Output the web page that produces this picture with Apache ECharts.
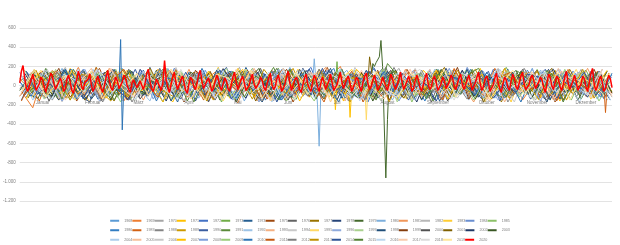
<!DOCTYPE html>
<html><head><meta charset="utf-8">
<script src="https://cdn.jsdelivr.net/npm/echarts@6/dist/echarts.min.js"></script>
<style>html,body{margin:0;padding:0;background:#fff}#c{width:620px;height:245px}</style>
</head><body><div id="c"></div>
<script>
const monthNames=['Januar','Februar','März','April','Mai','Juni','Juli','August','September','Oktober','November','Dezember'];
const monthDays=[31,28,31,30,31,30,31,31,30,31,30,31];
const yTicks={min:-1200,max:600,step:200};
const years=[];for(let y=1968;y<=2020;y++)years.push(y);
const colors=['#5B9BD5','#ED7D31','#A5A5A5','#FFC000','#4472C4','#70AD47','#255E91','#9E480E','#636363','#997300','#264478','#43682B','#7CAFDD','#F1975A','#B7B7B7','#FFCD33','#698ED0','#8CC168','#327DC2','#D26012','#848484','#CC9A00','#3A5DA0','#5A8A39','#9DC3E6','#F4B183','#C9C9C9','#FFD966','#8FAADC','#A9D18E','#1F4E79','#843C0C','#525252','#7F6000','#203864','#385723','#ADCDEB','#F6BF9A','#C8C8C8','#FFC000','#7E9FDB','#9ACC79','#2E75B6','#C55A11','#7F7F7F','#BF9000','#2F5597','#548235','#BDD7EE','#F8CBAD','#DBDBDB','#FFE699','#FF0000'];
// 2020: daily values
const y2020=[30,150,210,80,-20,-60,10,60,120,40,-50,-30,20,90,60,-10,-70,0,50,130,100,20,-40,-20,40,80,20,-60,-30,70,110,
40,-50,-80,10,60,150,90,-10,-40,30,20,70,120,10,-60,-20,50,100,40,-30,-70,0,80,160,60,-20,-50,20,
90,50,-30,-10,40,110,80,0,-40,-70,30,60,20,-20,10,50,30,-40,20,130,170,50,-30,-60,0,70,90,-10,-50,40,260,
60,-20,-70,10,90,140,30,-40,-20,60,100,30,-50,-80,20,90,60,-10,-40,30,120,160,40,-30,-10,50,80,20,-60,-30,
40,110,70,-10,-50,20,80,50,-30,-60,10,90,140,40,-40,-20,60,100,30,-50,-60,0,70,120,20,-30,-50,30,90,60,-20,
-50,20,80,130,10,-40,-10,70,110,30,-60,-30,20,100,150,30,-50,0,60,90,40,-40,-70,10,80,120,20,-30,-60,40,
110,70,-10,-60,20,90,40,-40,-20,50,120,30,-50,-70,10,80,140,40,-30,-10,70,100,20,-60,-40,30,90,60,-20,-60,40,
100,130,20,-40,-10,60,110,40,-50,-70,20,90,70,-10,-50,30,120,80,0,-40,10,70,140,30,-40,-20,50,100,40,-60,-30,
50,110,60,-20,-60,10,80,130,20,-40,-10,70,100,30,-50,-70,20,90,50,-30,-50,40,110,80,-10,-40,20,80,120,10,
-40,-20,60,110,40,-50,-30,30,90,140,20,-50,-10,70,100,40,-60,-40,10,80,130,30,-30,-70,20,90,60,-20,-50,50,120,
70,-10,-40,30,100,140,20,-40,-60,10,80,110,50,-30,-50,40,90,60,-20,-70,20,120,90,0,-40,30,100,70,-10,-50,
10,90,150,30,-40,-20,50,110,40,-50,-70,20,100,70,-10,-60,30,120,180,20,-50,-10,60,100,40,-60,-30,50,110,70,-20];
// 1968-2019: weekly readings
const w1968=[40,-90,130,-20,160,-110,70,10,-140,180,-60,90,-30,120,-120,50,150,-80,20,-150,110,60,-40,170,-100,30,-70,140,-10,90,-130,200,-50,80,-90,120,30,-110,160,-40,60,-150,100,20,-60,180,-120,40,130,-80,70,-20,110];
const w1969=[-60,-230,150,80,-30,190,-90,20,120,-160,60,-40,170,-70,100,-130,40,140,-20,-180,90,-50,160,10,-110,130,-60,70,200,-90,30,-140,110,-20,150,-70,40,-120,180,-30,90,-100,60,140,-150,20,110,-60,170,-90,50,-120,80];
const w1970=[100,-40,-120,160,30,-80,140,-150,60,90,-20,-110,170,40,-70,120,-130,80,10,190,-90,50,-160,130,-30,70,-100,150,20,-60,110,-140,40,180,-50,-80,130,10,-120,160,-30,70,-90,140,-10,-150,100,60,-40,170,-110,30,90];
const w1971=[-80,120,50,-150,180,-40,90,-110,30,160,-70,140,-20,-170,80,110,-60,190,-130,20,150,-90,60,-30,170,-120,40,100,-160,130,-10,-100,70,80,-140,160,30,-70,120,-50,180,-110,60,-20,140,-90,50,-160,110,20,-60,130,-30];
const w1972=[150,-30,70,-120,20,170,-80,110,-50,-140,130,40,-90,180,-20,60,-160,100,150,-70,30,-110,140,-40,80,190,-130,50,-10,120,-170,90,20,-60,160,-100,40,130,-80,10,-140,170,60,-30,120,-120,90,-50,150,30,-100,60,140];
const w1973=[-20,80,-130,140,60,-90,190,-40,10,-150,120,70,-110,160,-60,30,100,-170,140,-10,50,-80,180,-130,90,20,-50,150,-100,60,130,-160,110,-20,80,-120,170,40,-70,110,-140,60,190,-30,-90,130,20,-150,80,160,-60,100,-40];
const w1974=[90,-110,40,170,-60,120,-140,30,80,-30,160,-100,50,-170,140,10,-70,110,-120,190,-40,70,-150,130,20,-90,160,-50,100,-130,40,180,-80,60,-20,140,-160,90,30,-110,120,-40,170,-90,10,150,-130,70,-60,110,30,-150,90];
const w1975=[-110,60,150,-50,90,-160,40,180,-90,20,-130,110,-30,170,-70,50,130,-140,80,-10,160,-100,30,120,-170,70,-40,190,-80,10,140,-120,60,-30,170,-60,100,-150,40,130,-90,20,160,-110,70,-40,140,-170,50,90,-20,120,-80];
const w1976=[60,140,-70,10,-130,120,80,-160,170,-40,90,-100,30,150,-80,-20,130,-150,60,110,-50,180,-120,40,-90,160,20,-60,130,-140,70,-10,190,-110,50,90,-170,140,-30,60,-120,110,20,-80,170,-50,-140,130,40,-100,150,-20,70];
const w1977=[-40,170,-120,90,30,-80,150,-20,-160,110,60,-100,180,-50,20,140,-130,70,-10,160,-90,40,110,-150,80,-30,170,-70,10,130,-120,60,150,-60,90,-140,30,190,-100,50,-20,120,-170,80,140,-60,20,-110,170,-40,90,-130,60];
const w1978=[130,-60,20,-150,170,50,-100,140,-30,70,-120,190,-70,30,110,-160,80,-40,150,-90,20,130,-140,60,-20,170,-110,90,40,-60,160,-130,10,120,-80,50,-150,180,-40,100,30,-120,140,-70,60,-10,170,-140,90,-50,120,40,-110];
const w1979=[20,-140,110,60,-70,160,-30,90,-120,140,-50,30,170,-100,80,-20,130,-150,50,120,-80,10,180,-110,70,-40,150,-130,60,20,-90,140,-60,100,-140,40,170,-30,80,-120,110,-70,30,160,-90,50,-150,130,-10,70,-100,150,-40];
const w1980=[-100,80,-30,180,-140,50,120,-70,10,150,-110,60,-40,170,20,-130,90,-60,140,-160,70,30,-90,190,-50,100,-120,40,160,-20,-80,130,-150,60,110,-40,170,-100,20,-60,150,-130,80,40,-70,160,-20,-110,120,60,-140,90,10];
const w1981=[70,-50,160,-130,30,110,-90,180,-20,60,-150,130,40,-70,170,-110,20,90,-40,150,-160,80,-10,120,-100,60,190,-60,30,-140,110,50,-120,170,-30,80,-90,140,10,-170,100,-40,160,-80,30,120,-150,60,-20,180,-70,40,-130];
const w1982=[-30,120,-80,40,190,-120,70,-10,140,-160,50,100,-60,170,-140,30,80,-100,160,-40,110,-170,60,20,-80,150,-120,90,-30,130,40,-150,170,-60,10,120,-110,80,150,-90,20,-40,180,-130,70,-20,110,-160,140,30,-70,90,-120];
const w1983=[110,-120,60,-40,150,20,-170,90,130,-60,30,-110,170,-20,80,-140,120,50,-90,180,-30,70,-160,110,10,-70,140,-120,60,170,-50,-10,130,-150,90,40,-80,160,-110,30,120,-60,70,-170,150,-20,100,-90,40,130,-140,60,-50];
const w1984=[-70,40,170,-100,90,-30,140,-150,60,10,120,-80,180,-50,20,-130,160,-70,110,-20,60,150,-140,40,-90,130,10,-60,170,-110,80,-30,140,-160,50,110,-70,20,-120,190,-40,90,-150,60,130,-100,30,170,-60,-10,110,-140,80];
const w1985=[160,-20,-90,130,-150,70,30,-60,170,-110,40,140,-30,-140,90,60,-80,150,-120,20,180,-50,100,-160,70,-10,130,-90,40,160,-130,60,-40,110,-170,80,20,150,-70,-30,140,-120,50,90,-60,170,-100,30,-150,120,60,-80,140];
const w1986=[-120,90,20,-60,170,-140,110,40,-80,150,-30,60,-170,130,-10,80,-110,160,30,-50,120,-150,70,-20,140,-100,50,180,-130,20,90,-70,150,-40,60,-160,120,10,-90,170,-60,80,-130,40,160,-30,-110,100,50,-70,130,-150,20];
const w1987=[50,-160,140,-20,80,-100,190,-70,30,-130,110,60,-40,170,-120,10,140,-90,70,-30,160,-140,50,100,-60,20,-170,130,80,-50,150,-110,40,-20,170,-80,60,-140,120,30,-100,180,-60,20,140,-130,90,-30,60,-110,150,130,-40];
const w1988=[-10,130,-150,70,40,-90,160,-40,110,-170,60,20,-120,150,-60,90,-20,180,-140,50,100,-80,30,170,-110,60,-40,130,-160,80,10,-90,190,-50,120,-130,40,-20,160,-100,70,140,-170,30,-60,110,-10,150,-120,80,20,-90,170];
const w1989=[80,-80,40,150,-130,20,120,-50,-160,170,-20,90,-110,60,140,-70,30,-150,160,-40,70,110,-120,10,180,-90,50,-30,140,-170,100,40,-60,150,-140,80,-10,120,-110,60,170,-80,20,-130,130,50,-40,160,-150,90,-20,110,-60];
const w1990=[-150,100,-20,60,130,-90,-170,140,30,-60,170,-110,80,10,-140,120,-30,60,190,-100,40,-70,150,-130,20,100,-50,160,-10,-120,70,180,-90,30,-150,130,60,-40,110,-80,20,150,-160,90,-20,50,170,-130,40,-60,140,-100,30];
const w1991=[30,-70,180,-120,50,-20,140,90,-150,60,-40,160,-90,20,130,-170,80,40,-110,150,-60,10,190,-80,-140,120,30,-30,170,-100,60,-150,230,90,-20,140,-160,50,-70,110,180,-40,-120,70,20,-90,160,-10,130,-140,80,-50,100];
const w1992=[-60,140,-110,30,90,-40,170,-130,60,110,-20,-160,150,40,-80,120,-50,180,-100,20,70,-140,130,-30,160,-60,40,-120,90,150,-170,60,20,-70,130,-110,170,-40,80,-150,100,30,-80,140,-20,60,-130,170,-60,10,120,-100,50];
const w1993=[120,-30,60,-140,160,-90,20,130,-60,-120,170,40,-80,100,-20,150,-150,70,30,-100,180,-40,90,-130,50,140,-70,10,-160,120,60,-20,150,-110,40,-60,160,-140,90,20,-50,130,-170,70,110,-30,-100,150,40,-70,100,-140,170];
const w1994=[-90,50,120,-170,80,-10,160,-60,30,140,-120,70,-40,190,-90,20,110,-150,60,-30,130,-80,170,10,-130,90,-50,150,-100,40,110,-160,70,-20,180,-70,30,-130,140,60,-90,10,160,-110,50,-40,130,-160,80,120,-30,70,-140];
const w1995=[10,160,-90,40,-150,130,70,-50,180,-120,90,-10,-140,150,30,-70,120,-160,60,170,-40,100,-110,20,140,-80,60,-150,130,-20,80,170,-60,-130,110,40,-100,160,-30,70,-170,120,10,-60,150,-120,90,-40,170,-90,50,130,-110];
const w1996=[140,-100,30,-50,170,-80,90,-160,40,120,-30,60,-130,180,-70,10,140,-110,80,-40,150,-170,50,110,-60,30,-120,160,-20,90,-140,70,130,-90,20,-50,170,-130,60,100,-80,40,-150,120,-10,170,-60,30,-110,140,70,-40,90];
const w1997=[-40,90,-140,170,20,-100,60,130,-70,30,-160,110,50,-30,150,-120,70,-60,180,10,-90,140,-40,60,-150,120,30,-80,170,-110,50,-20,140,-170,90,130,-50,10,-120,160,40,-90,110,-30,70,-150,150,20,-60,130,-120,80,-20];
const w1998=[70,-130,150,-60,40,110,-140,20,170,-80,60,-20,130,-160,90,30,-100,160,-50,120,-30,-170,80,140,-90,50,-10,180,-130,60,20,-100,150,-40,110,-150,70,30,-80,170,-120,90,-20,140,-60,40,-170,110,60,-30,150,-90,30];
const w1999=[-100,60,-20,180,-120,30,90,-70,150,-150,40,120,-40,70,-170,160,10,-90,130,-60,100,-130,20,170,-40,-110,140,50,-80,110,-20,160,-150,60,30,-100,130,-60,190,-140,80,-10,120,-90,40,160,-130,70,-50,20,170,-110,60];
const w2000=[20,110,-160,80,-30,150,-100,60,-60,170,-140,40,100,-80,20,130,-170,90,-20,150,-110,60,30,-150,170,-50,80,-130,40,120,-70,10,160,-120,90,-40,140,-160,50,-10,110,-100,180,-60,30,-140,120,80,-90,40,-30,150,-120];
const w2001=[-130,70,140,-40,90,-150,30,160,-90,10,110,-60,180,-120,50,-30,150,-100,20,130,-160,90,-10,170,-70,40,-140,120,60,-90,150,-30,40,-130,80,-50,160,-110,30,140,-170,70,-20,110,-80,50,180,-150,60,-40,130,20,-100];
const w2002=[90,-40,-110,160,30,-140,120,-20,70,150,-100,50,-160,130,-30,90,-80,170,20,-130,140,-50,60,-120,180,-10,30,-150,110,70,-90,140,-30,50,-170,120,40,-80,160,-110,20,130,-50,90,-140,60,170,-70,10,-120,150,-30,80];
const w2003=[-50,130,60,-120,170,-70,20,110,-150,80,40,-90,160,-30,-130,140,70,-60,120,-170,50,180,-100,30,-40,150,-140,90,10,-80,130,-160,70,160,-50,20,-110,170,-20,60,-140,100,40,-90,150,-120,80,-30,130,-150,60,110,-70];
const w2004=[110,-150,40,90,-60,170,-110,20,130,-40,-140,80,150,-90,30,-20,160,-130,70,110,-60,10,-170,140,50,-100,120,-30,180,-150,40,90,-70,130,-120,60,20,-160,150,-40,100,-90,170,-10,-130,80,140,-60,30,-170,120,50,-80];
const w2005=[-20,90,-120,150,-70,40,180,-140,60,-30,120,-100,20,170,-60,90,-150,130,30,-90,160,-40,70,-130,110,-10,150,-170,80,20,-110,140,-50,60,170,-120,30,-80,130,-20,60,-160,150,40,-70,110,-100,180,-40,20,-130,90,60];
const w2006=[60,-70,170,-130,20,110,-40,-150,140,70,-90,160,-20,50,-160,130,-60,100,40,-110,170,-30,80,-140,20,150,-80,60,-120,190,-40,30,-100,150,-150,90,-20,120,-130,60,140,-70,10,-170,160,-40,90,-90,40,150,-110,70,-30];
const w2007=[-140,120,30,-80,160,-20,90,-130,50,140,-60,20,-170,110,70,-40,150,-100,30,170,-120,80,-50,130,-160,60,100,-20,-90,170,40,-70,110,-60,90,-30,160,-140,70,-10,120,-110,180,-50,30,-150,130,60,-80,110,-20,160,-130];
const w2008=[130,-50,80,-160,40,170,-100,10,120,-70,160,-140,60,30,-90,140,-30,90,-150,50,120,-60,170,-110,20,-40,150,-130,80,40,-100,160,-10,70,-150,110,-60,180,-90,30,-130,140,20,-50,110,-160,70,130,-20,-100,90,-70,160];
const w2009=[-80,40,150,-110,90,-40,130,60,-170,120,20,-60,180,-120,50,100,-80,30,-140,160,-20,70,-110,140,10,-160,120,-50,90,60,-130,170,-30,40,-100,150,-70,20,130,-150,80,-20,160,-120,60,30,-90,170,-60,110,-160,50,20];
const w2010=[40,-110,120,-30,170,-140,70,20,-90,150,-50,110,-160,80,40,-120,180,-60,30,-130,140,-20,90,-150,60,130,-80,10,-170,120,70,-40,150,-110,30,-60,160,-130,90,20,-100,140,-30,60,-170,110,50,-80,150,-40,10,-120,130];
const w2011=[-160,80,-30,150,40,-90,130,-140,60,170,-70,20,-120,160,-10,90,-150,110,50,-60,140,-130,30,180,-80,40,-110,120,-20,150,-170,70,-40,100,130,-100,20,-150,170,-30,60,-120,90,140,-60,-20,110,-160,80,40,-90,170,-50];
const w2012=[80,-20,-130,140,-60,110,40,-170,150,-30,70,-100,170,-50,20,130,-140,60,-90,120,30,-160,150,-40,80,-110,170,20,-70,130,-150,50,110,-20,-120,160,-60,90,30,-140,150,-40,70,-110,180,-10,-150,120,40,-80,160,-100,20];
const w2013=[-30,160,-100,50,-150,120,80,-60,140,-120,30,180,-40,-110,90,60,-160,130,-20,70,-140,170,20,-80,110,-30,150,-120,50,90,-60,140,-170,80,20,-100,130,-40,160,-70,40,-140,110,70,-30,150,-110,20,-60,170,-130,60,100];
const w2014=[150,-90,20,-60,130,-130,70,110,-40,-150,170,-20,60,-110,140,-80,30,160,-140,40,-50,120,-170,90,30,-90,180,-60,10,-120,150,60,-100,130,-30,40,-160,110,70,-50,160,-130,20,-70,120,90,-140,60,-20,140,-100,30,-60];
const w2015=[-70,30,110,-140,170,-50,90,-110,20,160,-90,60,-30,130,-160,80,40,-70,150,-120,100,20,-150,170,-40,60,-100,140,-10,-130,110,-60,160,-20,70,-140,120,40,-90,170,-50,10,-120,150,60,-80,130,-170,90,-20,140,-60,70];
const w2016=[100,-60,-140,120,60,-20,170,-110,40,-80,150,-30,90,-150,110,20,-70,160,-120,50,-40,140,-90,30,170,-130,60,-10,120,-160,80,40,-110,150,-50,100,-20,-140,130,60,-80,170,-40,20,-130,160,-60,90,-10,-100,140,-150,50];
const w2017=[-110,140,-40,70,-150,20,130,-80,180,-30,-120,90,40,-60,150,-140,70,10,-100,170,-20,60,-160,120,-50,90,130,-110,30,-70,160,-30,-140,110,40,-80,170,-120,60,-10,130,-150,80,30,-70,140,-20,-130,100,60,-40,150,-110];
const w2018=[50,-100,160,-40,90,-130,20,140,-70,60,-160,110,30,-90,170,-50,80,-130,40,150,-110,20,-60,180,-140,70,-30,130,60,-100,20,150,-70,-120,90,170,-40,30,-150,120,60,-90,150,-20,50,-160,130,-70,90,10,-120,170,-50];
const w2019=[-50,170,-120,30,110,-70,150,-140,60,-10,130,-100,40,170,-60,20,-150,120,80,-40,160,-130,50,-20,140,-90,70,-160,110,30,-80,150,-40,-110,130,60,-30,170,-120,40,90,-140,20,160,-90,50,-40,140,-150,80,30,-100,150];
const weekly=[w1968,w1969,w1970,w1971,w1972,w1973,w1974,w1975,w1976,w1977,w1978,w1979,w1980,w1981,w1982,w1983,w1984,w1985,w1986,w1987,w1988,w1989,w1990,w1991,w1992,w1993,w1994,w1995,w1996,w1997,w1998,w1999,w2000,w2001,w2002,w2003,w2004,w2005,w2006,w2007,w2008,w2009,w2010,w2011,w2012,w2013,w2014,w2015,w2016,w2017,w2018,w2019];
// single-day extremes [dayOfYear, value]
const spikes1971=[[202,20],[203,-330],[204,-40]];
const spikes1973=[[194,0],[195,250],[196,-20]];
const spikes1979=[[216,60],[217,230],[218,200],[219,240],[220,220],[221,300],[222,470],[223,200],[224,-400],[225,-960],[226,-350],[227,50]];
const spikes1980=[[180,40],[181,280],[182,60],[183,-200],[184,-630],[185,-100],[186,30]];
const spikes1987=[[359,0],[360,-280],[361,-30]];
const spikes1995=[[212,10],[213,-355],[214,-20]];
const spikes2001=[[214,40],[215,300],[216,280],[217,60]];
const spikes2007=[[193,20],[194,-250],[195,0]];
const spikes2010=[[61,20],[62,480],[63,-460],[64,10]];
const spikeLookup={1971:spikes1971,1973:spikes1973,1979:spikes1979,1980:spikes1980,1987:spikes1987,1995:spikes1995,2001:spikes2001,2007:spikes2007,2010:spikes2010};

const categories=[];const midIdx=[];
monthDays.forEach((n,m)=>{for(let d=1;d<=n;d++){if(d===15)midIdx.push(categories.length);categories.push(d+'. '+monthNames[m]);}});
const nDays=categories.length;

const series=[];
years.forEach((y,k)=>{
  let data;
  if(y===2020){data=y2020.slice();}
  else{
    data=new Array(nDays).fill(null);
    const off=k%7;
    weekly[k].forEach((v,i)=>{const d=off+7*i;if(d<nDays)data[d]=v;});
    (spikeLookup[y]||[]).forEach(p=>{data[p[0]]=p[1];});
  }
  series.push({name:String(y),type:'line',data:data,symbol:'none',showSymbol:false,connectNulls:true,silent:true,
    lineStyle:{width:y===2020?1.5:1,color:colors[k]},itemStyle:{color:colors[k]}});
});

// month labels sit just below the zero line (Excel "next to axis" style)
const monthLabelLevel=-180;
series.push({name:'__months',type:'scatter',symbol:'circle',symbolSize:1,silent:true,z:5,
  itemStyle:{color:'rgba(0,0,0,0)'},
  data:midIdx.map((d,m)=>({value:[categories[d],monthLabelLevel],name:monthNames[m]})),
  label:{show:true,position:'inside',formatter:p=>p.name,fontSize:4.5,color:'#595959',fontFamily:'Liberation Sans, Arial, sans-serif'}});

const fmt=v=>{const s=String(Math.abs(v));const t=s.replace(/\B(?=(\d{3})+(?!\d))/g,'.');return (v<0?'-':'')+t;};

const chart=echarts.init(document.getElementById('c'),null,{renderer:'canvas'});
chart.setOption({
  animation:false,
  color:colors,
  textStyle:{fontFamily:'Liberation Sans, Arial, sans-serif'},
  grid:{left:18,right:8,top:28,bottom:44,containLabel:false},
  xAxis:{type:'category',data:categories,boundaryGap:false,
    axisLine:{onZero:true,lineStyle:{color:'#D9D9D9',width:1}},
    axisTick:{show:false},axisLabel:{show:false},splitLine:{show:false}},
  yAxis:{type:'value',min:yTicks.min,max:yTicks.max,interval:yTicks.step,
    axisLine:{show:false},axisTick:{show:false},
    axisLabel:{formatter:fmt,fontSize:4.5,color:'#7f7f7f',margin:4},
    splitLine:{lineStyle:{color:'#E3E3E3',width:1}}},
  legend:{top:211,left:'center',width:410,icon:'rect',itemWidth:9,itemHeight:2,itemGap:0,
    textStyle:{fontSize:3.7,color:'#7f7f7f',lineHeight:9.5},data:years.map(String)},
  series:series
});
</script></body></html>
